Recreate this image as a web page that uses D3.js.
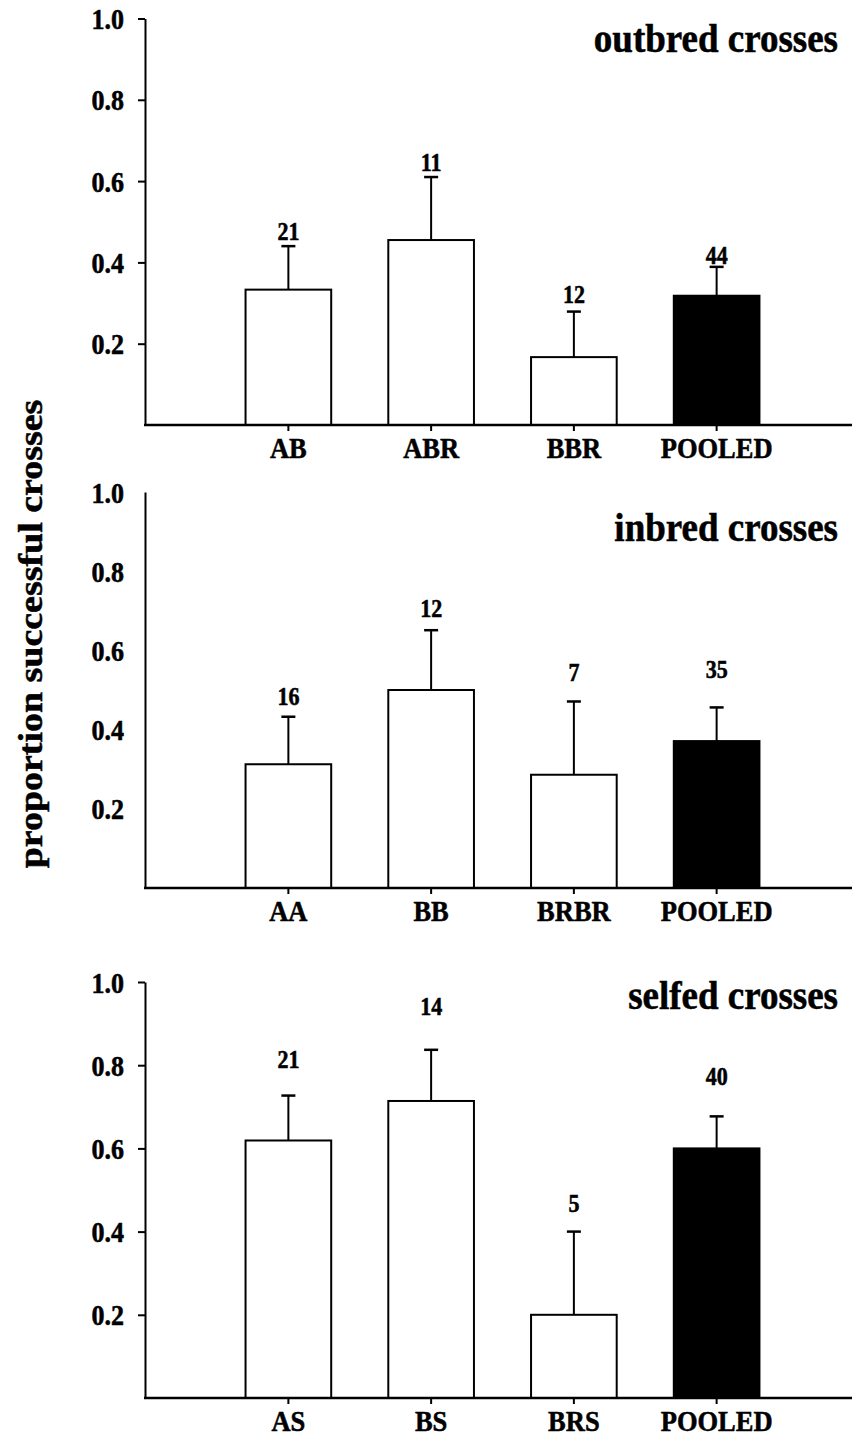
<!DOCTYPE html>
<html>
<head>
<meta charset="utf-8">
<script src="https://cdn.jsdelivr.net/npm/d3@7"></script>
<style>
  html, body { margin: 0; padding: 0; background: #fff; }
  svg { display: block; }
</style>
</head>
<body>
<svg id="chart" width="855" height="1454"></svg>
<script>
// ---- data: proportion of successful crosses, upper error bar, sample size ----
const outbredCats    = ["AB", "ABR", "BBR", "POOLED"];
const outbredProp    = [0.333, 0.455, 0.167, 0.318];
const outbredErr     = [0.107, 0.155, 0.112, 0.071];
const outbredN       = [21, 11, 12, 44];
const outbredLabelAt = [0.477, 0.645, 0.32, 0.418];

const inbredCats     = ["AA", "BB", "BRBR", "POOLED"];
const inbredProp     = [0.3125, 0.5, 0.286, 0.371];
const inbredErr      = [0.12, 0.151, 0.185, 0.085];
const inbredN        = [16, 12, 7, 35];
const inbredLabelAt  = [0.483, 0.706, 0.543, 0.551];

const selfedCats     = ["AS", "BS", "BRS", "POOLED"];
const selfedProp     = [0.619, 0.714, 0.2, 0.6];
const selfedErr      = [0.108, 0.123, 0.2, 0.077];
const selfedN        = [21, 14, 5, 40];
const selfedLabelAt  = [0.813, 0.94, 0.468, 0.774];

const yTickValues    = [0.2, 0.4, 0.6, 0.8, 1.0];
const panelTitles    = ["outbred crosses", "inbred crosses", "selfed crosses"];
const yTitle         = "proportion successful crosses";

// ---- layout ----
const FONT = "'Liberation Serif', 'Times New Roman', Times, serif";
const SY = 1.1;              // slight vertical stretch of the lettering
const axisX = 145;
const axisRight = 852;
const panels = [
  { cats: outbredCats, prop: outbredProp, err: outbredErr, n: outbredN, labelAt: outbredLabelAt,
    title: panelTitles[0], top: 18.5, bottom: 425, yTicks: true, titleY: 38 },
  { cats: inbredCats, prop: inbredProp, err: inbredErr, n: inbredN, labelAt: inbredLabelAt,
    title: panelTitles[1], top: 492, bottom: 888, yTicks: false, titleY: 527 },
  { cats: selfedCats, prop: selfedProp, err: selfedErr, n: selfedN, labelAt: selfedLabelAt,
    title: panelTitles[2], top: 982, bottom: 1398, yTicks: true, titleY: 995 }
];

const svg = d3.select("#chart");

function stretchedText(g, x, y, str, size, anchor) {
  return g.append("text")
    .attr("transform", `translate(${x},${y}) scale(1,${SY})`)
    .attr("dy", "0.35em")
    .attr("text-anchor", anchor || "middle")
    .attr("font-family", FONT)
    .attr("font-weight", "bold")
    .attr("font-size", size)
    .attr("fill", "#000")
    .attr("stroke", "#000")
    .attr("stroke-width", 0.5)
    .text(str);
}

panels.forEach(p => {
  const g = svg.append("g");

  const y = d3.scaleLinear().domain([0, 1]).range([p.bottom, p.top]);
  const x = d3.scaleBand().domain(p.cats).range([217, 788])
    .paddingInner(0.4).paddingOuter(0.2);

  const rows = p.cats.map((c, i) => ({
    cat: c, v: p.prop[i], e: p.err[i], n: p.n[i], at: p.labelAt[i], pooled: c === "POOLED"
  }));

  // bars
  g.selectAll("rect.bar").data(rows).join("rect")
    .attr("class", "bar")
    .attr("x", d => x(d.cat))
    .attr("width", x.bandwidth())
    .attr("y", d => y(d.v))
    .attr("height", d => y(0) - y(d.v))
    .attr("fill", d => d.pooled ? "#000" : "#fff")
    .attr("stroke", "#000")
    .attr("stroke-width", 2);

  // error bars (upper half only)
  const eb = g.selectAll("g.err").data(rows).join("g").attr("class", "err");
  eb.append("line")
    .attr("x1", d => x(d.cat) + x.bandwidth() / 2)
    .attr("x2", d => x(d.cat) + x.bandwidth() / 2)
    .attr("y1", d => y(d.v))
    .attr("y2", d => y(d.v + d.e))
    .attr("stroke", "#000").attr("stroke-width", 2);
  eb.append("line")
    .attr("x1", d => x(d.cat) + x.bandwidth() / 2 - 7)
    .attr("x2", d => x(d.cat) + x.bandwidth() / 2 + 7)
    .attr("y1", d => y(d.v + d.e))
    .attr("y2", d => y(d.v + d.e))
    .attr("stroke", "#000").attr("stroke-width", 2.5);

  // sample sizes
  rows.forEach(d => {
    stretchedText(g, x(d.cat) + x.bandwidth() / 2, y(d.at), String(d.n), 22);
  });

  // y axis
  const yAxis = d3.axisLeft(y)
    .tickValues(yTickValues)
    .tickFormat(d3.format(".1f"))
    .tickSize(p.yTicks ? 7 : 0)
    .tickSizeOuter(0);
  const ya = g.append("g").attr("transform", `translate(${axisX},0)`).call(yAxis);
  ya.select(".domain").attr("stroke-width", 2);
  ya.selectAll(".tick line").attr("stroke-width", 2);
  ya.selectAll(".tick text")
    .attr("x", 0).attr("dy", "0.35em")
    .attr("transform", `translate(-21,0) scale(1,${SY})`)
    .attr("font-family", FONT).attr("font-weight", "bold").attr("font-size", 26)
    .attr("fill", "#000").attr("stroke", "#000").attr("stroke-width", 0.5);

  // x axis: baseline across the panel, ticks under each category
  g.append("line")
    .attr("x1", axisX - 1).attr("x2", axisRight)
    .attr("y1", y(0)).attr("y2", y(0))
    .attr("stroke", "#000").attr("stroke-width", 2.5);
  const xAxis = d3.axisBottom(x).tickSize(6).tickSizeOuter(0).tickFormat("");
  const xa = g.append("g").attr("transform", `translate(0,${y(0)})`).call(xAxis);
  xa.select(".domain").remove();
  xa.selectAll(".tick line").attr("stroke-width", 2);

  // category labels
  p.cats.forEach(c => {
    stretchedText(g, x(c) + x.bandwidth() / 2, y(0) + 23, c, 26.5);
  });

  // panel title
  stretchedText(g, 838, p.titleY, p.title, 37, "end");
});

// shared y-axis title
svg.append("text")
  .attr("transform", `translate(30,634) rotate(-90) scale(1.15,1)`)
  .attr("dy", "0.35em")
  .attr("text-anchor", "middle")
  .attr("font-family", FONT)
  .attr("font-weight", "bold")
  .attr("font-size", 33)
  .attr("stroke", "#000")
  .attr("stroke-width", 0.5)
  .text(yTitle);
</script>
</body>
</html>
